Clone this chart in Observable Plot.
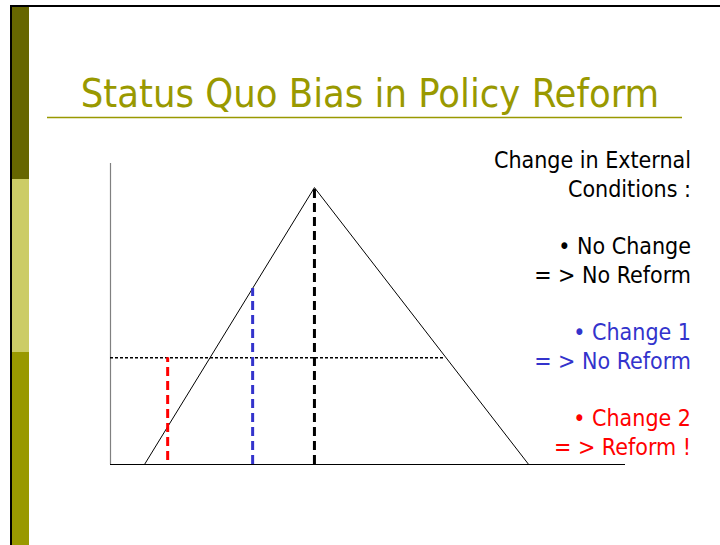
<!DOCTYPE html>
<html><head><meta charset="utf-8">
<script src="https://cdn.jsdelivr.net/npm/d3@7"></script>
<script src="https://cdn.jsdelivr.net/npm/@observablehq/plot@0.6"></script>
<style>
html,body{margin:0;padding:0;background:#fff;}
#slide{position:relative;width:720px;height:545px;overflow:hidden;background:#fff;}
.bar{position:absolute;}
#deco{position:absolute;left:0;top:0;}
#chart{position:absolute;left:0;top:140px;}
text{font-family:"DejaVu Sans Condensed","DejaVu Sans",sans-serif;}
</style></head>
<body>
<div id="slide">
  <div class="bar" style="left:10px;top:5px;width:710px;height:2px;background:#000"></div>
  <div class="bar" style="left:10px;top:5px;width:2px;height:540px;background:#000"></div>
  <div class="bar" style="left:12px;top:7px;width:17px;height:172px;background:#666600"></div>
  <div class="bar" style="left:12px;top:179px;width:17px;height:173px;background:#cccc66"></div>
  <div class="bar" style="left:12px;top:352px;width:17px;height:193px;background:#999900"></div>
  <svg id="deco" width="720" height="545"></svg>
  <div id="chart"></div>
</div>
<script>
// ---- data ----
const titleText = "Status Quo Bias in Policy Reform";
const legendLines = ["Change in External", "Conditions :", "", "\u2022 No Change", "= > No Reform", "", "\u2022 Change 1", "= > No Reform", "", "\u2022 Change 2", "= > Reform !"];
const legendColors = ["#000", "#000", "#000", "#000", "#000", "#000", "#3333cc", "#3333cc", "#000", "#ff0000", "#ff0000"];

const curveX = [0.66, 3.96, 8.12];
const curveY = [0, 9.2, 0];
const thresholdY = 3.55;
const thresholdEndX = 6.5;
const scenarios = ["No Change", "Change 1", "Change 2"];
const scenarioX = [3.96, 2.76, 1.11];
const scenarioTop = [9.2, 5.85, 3.55];
const scenarioBottom = [0, 0, 0.13];
const scenarioColors = ["#000000", "#3333cc", "#ff0000"];

// ---- decorations: title + legend text ----
const deco = d3.select("#deco");
deco.append("text").attr("x", 370).attr("y", 107).attr("text-anchor", "middle")
  .attr("font-size", 39.5).attr("fill", "#999900").text(titleText);
deco.append("line").attr("x1", 47).attr("x2", 682).attr("y1", 117.5).attr("y2", 117.5)
  .attr("stroke", "#999900").attr("stroke-width", 1.5);
legendLines.forEach((t, i) => {
  if (!t) return;
  deco.append("text").attr("x", 691).attr("y", 168 + i * 28.7).attr("text-anchor", "end")
    .attr("font-size", 23).attr("fill", legendColors[i]).text(t);
});

// ---- chart ----
const curve = curveX.map((x, i) => ({x, y: curveY[i]}));
const sc = scenarios.map((s, i) => ({s, x: scenarioX[i], y1: scenarioBottom[i], y2: scenarioTop[i], c: scenarioColors[i]}));

const plot = Plot.plot({
  width: 720, height: 405,
  marginLeft: 110, marginRight: 95, marginTop: 23, marginBottom: 81,
  x: {domain: [0, 10], axis: null},
  y: {domain: [0, 10], axis: null},
  style: {background: "transparent", overflow: "visible"},
  marks: [
    Plot.ruleX([0], {y1: 0, y2: 10, stroke: "#808080", strokeWidth: 1.2}),
    Plot.ruleY([0], {x1: 0, x2: 10, stroke: "#000", strokeWidth: 1.2}),
    Plot.line(curve, {x: "x", y: "y", stroke: "#000", strokeWidth: 1}),
    Plot.ruleY([thresholdY], {x1: 0, x2: thresholdEndX, stroke: "#000", strokeWidth: 1.5, strokeDasharray: "3,2"}),
    Plot.ruleX(sc, {x: "x", y1: "y1", y2: "y2", stroke: "c", strokeWidth: 3, strokeDasharray: "9,5"})
  ]
});
document.getElementById("chart").appendChild(plot);
</script>
</body></html>
